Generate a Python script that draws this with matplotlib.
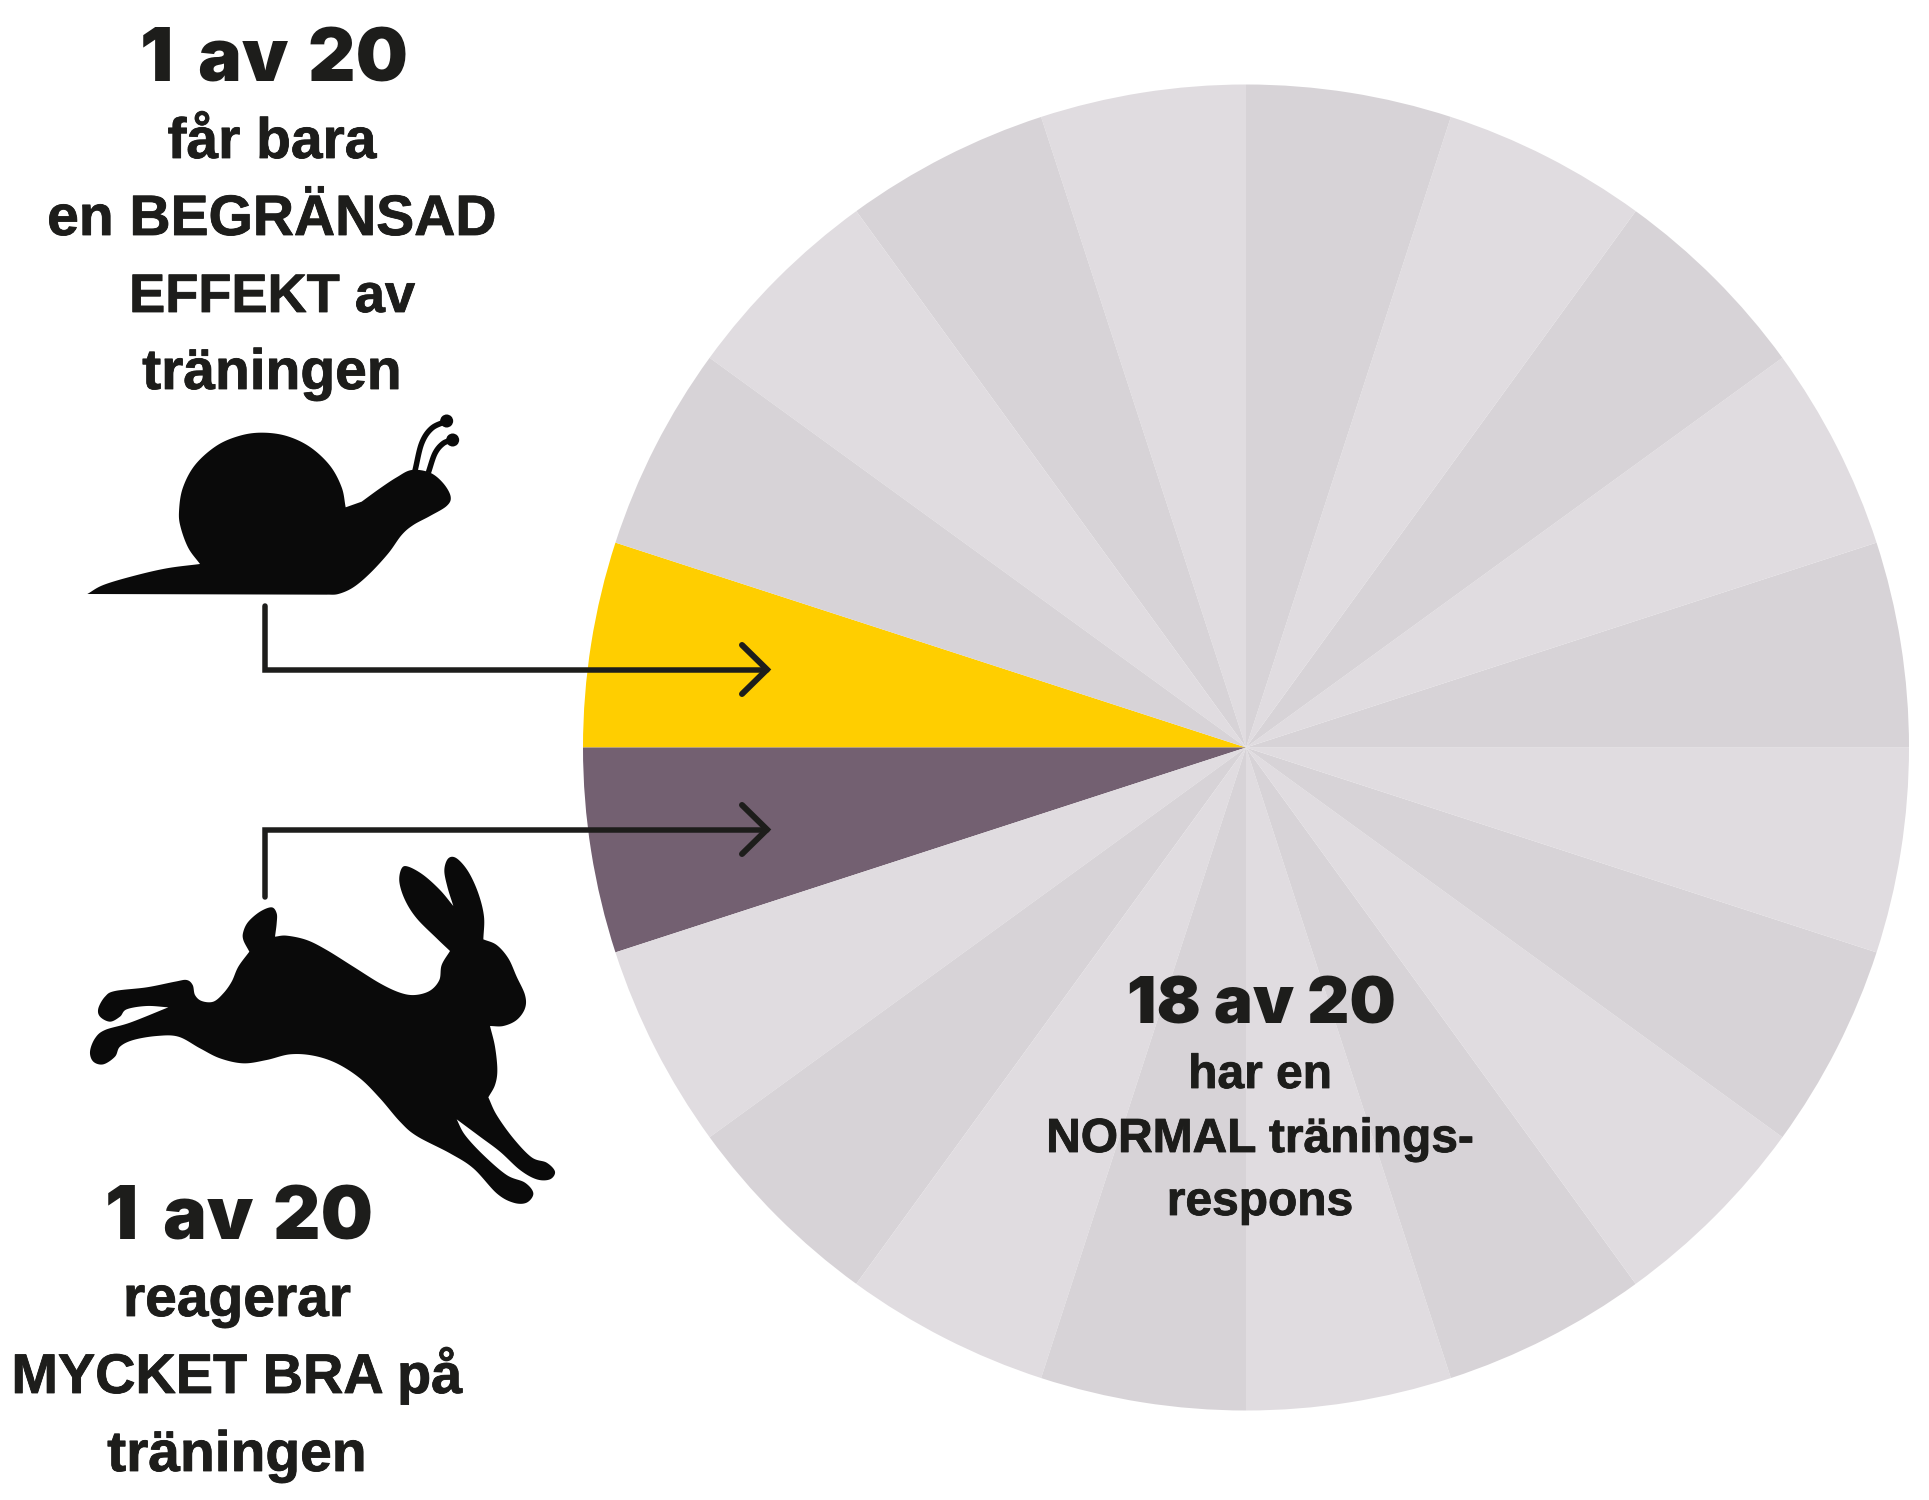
import numpy as np
import matplotlib
matplotlib.use('Agg')
from matplotlib import pyplot as plt
from matplotlib.path import Path
from matplotlib.patches import PathPatch, Circle
import matplotlib.patheffects as pe

W, H = 1929, 1500

# 20 people, one slice each, going counter clockwise from the yellow one
slice_group = ['slow', 'fast'] + ['normal'] * 18
slice_size = [1] * 20

# the big headlines have wider gaps in the original, hence the thin spaces
headline_slow = '1\u2009 av\u200a 20'
lines_slow = ['får bara', 'en BEGRÄNSAD', 'EFFEKT av', 'träningen']
headline_fast = '1\u2009 av\u200a 20'
lines_fast = ['reagerar', 'MYCKET BRA på', 'träningen']
headline_normal = '18 av 20'
lines_normal = ['har en', 'NORMAL tränings-', 'respons']

YELLOW = '#FFCE00'
PURPLE = '#736071'
LIGHT = '#E0DCE0'
DARK = '#D7D3D7'
INK = '#1D1D1B'
BLACK = '#0A0A0A'

snail_origin = (60, 400)
snail_body = [
    [(82, 582), (130, 555), (220, 528), (320, 505), (420, 492)],
    [(420, 492), (385, 444), (362, 382), (357, 335), (368, 265), (405, 195), (470, 137),
     (540, 107), (607, 98), (680, 108), (750, 141), (810, 197), (845, 262), (857, 322)],
    [(857, 322), (905, 305)],
    [(905, 305), (960, 265), (1010, 232), (1055, 210), (1110, 218), (1150, 250), (1172, 290),
     (1160, 318), (1110, 348), (1060, 375), (1025, 405), (985, 460), (930, 520), (880, 562),
     (835, 582), (800, 584)],
    [(800, 584), (82, 582)],
]
snail_feelers = [
    [(1065, 212), (1085, 130), (1115, 85), (1160, 63)],
    [(1105, 218), (1125, 160), (1150, 130), (1178, 120)],
]

rabbit_origin = (60, 800)
rabbit_body = [
    [(568, 455), (550, 420), (550, 395), (565, 365), (600, 335), (635, 322), (650, 340), (650, 370), (645, 410)],
    [(645, 410), (680, 407), (740, 420), (800, 450), (880, 500), (960, 550), (1020, 578), (1065, 585),
     (1110, 572), (1138, 540), (1145, 495), (1170, 453)],
    [(1170, 453), (1130, 415), (1070, 355), (1035, 300), (1018, 245), (1025, 205), (1045, 200),
     (1090, 225), (1140, 270), (1180, 318)],
    [(1180, 318), (1162, 260), (1153, 210), (1165, 175), (1190, 175), (1225, 215), (1255, 280),
     (1272, 350), (1270, 418)],
    [(1270, 418), (1310, 435), (1345, 475), (1370, 530), (1395, 585), (1395, 625), (1370, 660),
     (1330, 678), (1290, 678)],
    [(1290, 678), (1305, 740), (1312, 810), (1305, 855), (1285, 892)],
    [(1285, 892), (1310, 945), (1360, 1015), (1415, 1072), (1460, 1088), (1485, 1115), (1470, 1138),
     (1430, 1138), (1380, 1110), (1320, 1055), (1260, 1010), (1190, 958)],
    [(1190, 958), (1215, 1005), (1270, 1065), (1340, 1125), (1395, 1148), (1420, 1180), (1400, 1208),
     (1360, 1208), (1310, 1180), (1240, 1105), (1170, 1060), (1070, 1008), (1020, 965), (960, 895),
     (900, 835), (830, 790), (760, 767), (690, 763), (620, 780), (550, 790), (480, 775), (420, 745),
     (355, 710), (290, 708), (220, 720), (180, 740), (165, 770), (130, 793), (100, 785), (90, 755),
     (105, 715), (135, 690), (210, 668), (325, 622)],
    [(325, 622), (260, 618), (200, 628), (180, 650), (150, 665), (120, 650), (115, 625), (135, 590),
     (165, 573), (260, 562), (345, 545), (380, 540), (398, 555), (405, 585), (425, 603), (460, 605),
     (490, 580), (515, 545), (535, 500), (568, 455)],
]


def to_px(p, origin):
    # crop coords to figure coords (y up)
    return origin[0] + p[0] / 3, H - (origin[1] + p[1] / 3)


def smooth_run(run, n=12):
    # catmull-rom through the points
    pts = np.array(run, dtype=float)
    if len(pts) < 3:
        return pts
    pad = np.vstack([2 * pts[0] - pts[1], pts, 2 * pts[-1] - pts[-2]])
    out = []
    for i in range(1, len(pad) - 2):
        p0, p1, p2, p3 = pad[i - 1], pad[i], pad[i + 1], pad[i + 2]
        for t in np.linspace(0, 1, n, endpoint=False):
            out.append(0.5 * (2 * p1 + (p2 - p0) * t + (2 * p0 - 5 * p1 + 4 * p2 - p3) * t ** 2
                              + (3 * p1 - p0 - 3 * p2 + p3) * t ** 3))
    out.append(pts[-1])
    return np.array(out)


def outline(runs, origin):
    pts = np.vstack([smooth_run(r) for r in runs])
    pts = np.array([to_px(p, origin) for p in pts])
    return Path(np.vstack([pts, pts[0]]), closed=True)


def px_pt(px):
    return px * 72 / 100


fig = plt.figure(figsize=(W / 100, H / 100), dpi=100, facecolor='white')
ax = fig.add_axes([0, 0, 1, 1])

colors = []
shade = [LIGHT, DARK]
for i, g in enumerate(slice_group):
    if g == 'slow':
        colors.append(YELLOW)
    elif g == 'fast':
        colors.append(PURPLE)
    else:
        colors.append(shade[i % 2])

ax.pie(slice_size, colors=colors, startangle=162, center=(1246, H - 747.5), radius=663,
       wedgeprops={'linewidth': 0})
ax.set_xlim(0, W)
ax.set_ylim(0, H)
ax.set_aspect('equal')
ax.axis('off')

ax.add_patch(PathPatch(outline(snail_body, snail_origin), fc=BLACK, ec='none'))
for f in snail_feelers:
    pts = np.array([to_px(p, snail_origin) for p in smooth_run(f)])
    ax.plot(pts[:, 0], pts[:, 1], color=BLACK, lw=px_pt(5.5), solid_capstyle='butt')
    ax.add_patch(Circle(pts[-1], 6.5, fc=BLACK, ec='none'))
ax.add_patch(PathPatch(outline(rabbit_body, rabbit_origin), fc=BLACK, ec='none'))

# elbow arrows
ARROW_X, TURN_X = 767, 265
for y_start, y_mid in [(606, 669.5), (897, 829.5)]:
    ax.plot([TURN_X, TURN_X, ARROW_X], [H - y_start, H - y_mid, H - y_mid], color=INK, lw=px_pt(5.5),
            solid_capstyle='round', solid_joinstyle='miter')
    ax.plot([ARROW_X - 25, ARROW_X, ARROW_X - 25], [H - y_mid + 24.5, H - y_mid, H - y_mid - 24.5], color=INK,
            lw=px_pt(6), solid_capstyle='round', solid_joinstyle='miter')


def label(x, y, s, size, stroke=0.0):
    t = ax.text(x, H - y, s, ha='center', va='baseline', fontsize=size, color=INK, weight='bold',
                family='Liberation Sans')
    if stroke:
        t.set_path_effects([pe.withStroke(linewidth=stroke, foreground=INK)])


def headline(x, y, s, size):
    ax.text(x, H - y, s, ha='center', va='baseline', fontsize=size, color=INK, weight='black',
            family=['Inter', 'DejaVu Sans'])


headline(274, 81, headline_slow, 53)
for y, s, size in zip([158, 235, 312, 389], lines_slow, [41, 41, 39, 41]):
    label(272, y, s, size, 0.6)
headline(239, 1240, headline_fast, 53)
for y, s, size in zip([1316, 1393, 1471], lines_fast, [41, 40.2, 41]):
    label(237, y, s, size, 0.6)
headline(1261, 1023, headline_normal, 47)
for y, s in zip([1088, 1152, 1215], lines_normal):
    label(1260, y, s, 34.5, 0.6)

fig.savefig('out.png', dpi=100)
